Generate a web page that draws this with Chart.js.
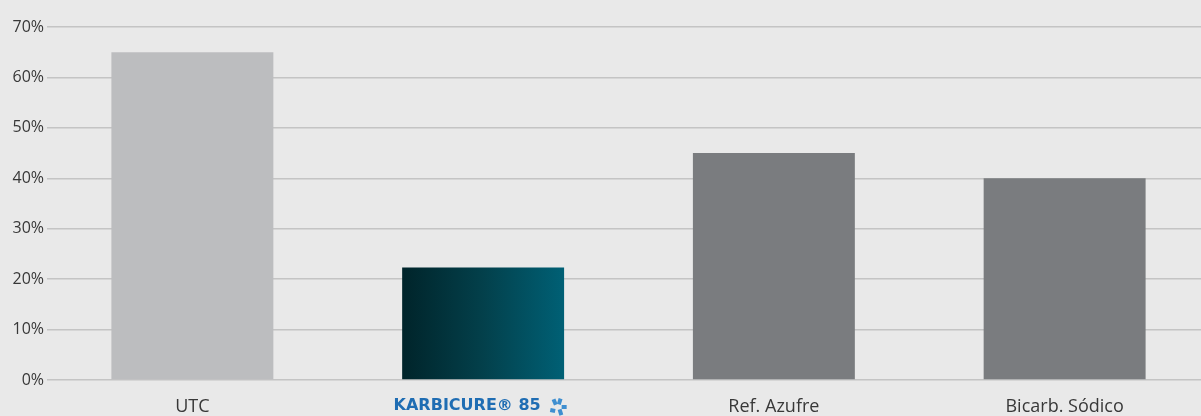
<!DOCTYPE html>
<html lang="es">

<head>
  <meta charset="UTF-8">
  <title>Comparativa</title>
  <script src="https://cdn.jsdelivr.net/npm/chart.js@4.2.1/dist/chart.umd.min.js"></script>
  <style>
    html, body {
      margin: 0;
      padding: 0;
      background: #e9e9e9;
      overflow: hidden;
    }

    .wrap {
      position: relative;
      width: 1210px;
      height: 416px;
    }
  </style>
</head>

<body>
  <div class="wrap">
    <canvas id="chart"></canvas>
  </div>

  <script>
    // data
    const categories = ['UTC', 'KARBICURE® 85', 'Ref. Azufre', 'Bicarb. Sódico'];
    const values = [65, 22.3, 45, 40];
    const yTicks = [0, 10, 20, 30, 40, 50, 60, 70];

    const brandIndex = 1;
    const brandBlue = '#1f6db3';
    const brandFont = { family: "'DejaVu Sans', sans-serif", size: 16, weight: 'bold' };
    const labelFont = { family: "'Open Sans', sans-serif", size: 18 };
    const brandGap = '\u2003\u2003'; // room for the logo mark
    const barPct = 0.557;

    // solid colours, the brand bar gets a horizontal gradient
    function barColor(context) {
      const i = context.dataIndex;
      if (i === 0) return '#bcbdbf';
      if (i === brandIndex) {
        const chart = context.chart;
        const xs = chart.scales.x;
        if (!xs || !chart.chartArea) return '#004050';
        const cx = xs.getPixelForValue(i);
        const half = (xs.width / categories.length) * barPct / 2;
        if (!Number.isFinite(cx) || !Number.isFinite(half)) return '#004050';
        const g = chart.ctx.createLinearGradient(cx - half, 0, cx + half, 0);
        g.addColorStop(0, '#00242a');
        g.addColorStop(0.5, '#03404b');
        g.addColorStop(1, '#006075');
        return g;
      }
      return '#7a7c7f';
    }

    const bgPlugin = {
      id: 'bg',
      beforeDraw(chart) {
        const c = chart.ctx;
        c.save();
        c.fillStyle = '#e9e9e9';
        c.fillRect(0, 0, chart.width, chart.height);
        c.restore();
      }
    };

    // little logo mark next to the brand label
    const markPlugin = {
      id: 'mark',
      afterDraw(chart) {
        const x = chart.scales.x;
        const c = chart.ctx;
        c.save();
        c.font = `bold ${brandFont.size}px ${brandFont.family}`;
        const w = c.measureText(categories[brandIndex]).width;
        const full = c.measureText(categories[brandIndex] + brandGap).width;
        const cx = x.getPixelForTick(brandIndex) - full / 2 + w + 17;
        const cy = 407;
        c.fillStyle = '#3f8fd0';
        const parts = [[-6, -7, 4, 6, -0.4], [1, -9, 4, 6, 0.3], [4, -2, 5, 4, 0], [-7, 1, 5, 4, 0.2], [0, 3, 4, 6, -0.3]];
        parts.forEach(p => {
          c.save();
          c.translate(cx + p[0], cy + p[1]);
          c.rotate(p[4]);
          c.fillRect(0, 0, p[2], p[3]);
          c.restore();
        });
        c.restore();
      }
    };

    new Chart(document.getElementById('chart'), {
      type: 'bar',
      data: {
        labels: categories,
        datasets: [{
          data: values,
          backgroundColor: barColor,
          borderWidth: 0,
          barPercentage: barPct,
          categoryPercentage: 1
        }]
      },
      options: {
        responsive: true,
        maintainAspectRatio: false,
        animation: false,
        layout: {
          padding: { top: 27, right: 0, left: 0, bottom: 0 }
        },
        plugins: {
          legend: { display: false },
          tooltip: { enabled: false }
        },
        scales: {
          y: {
            min: 0,
            max: 70,
            afterBuildTicks(scale) {
              scale.ticks = yTicks.map(v => ({ value: v }));
            },
            afterFit(scale) {
              scale.width = 47;
            },
            border: { display: false },
            grid: {
              color: '#c4c4c4',
              lineWidth: 1.5,
              drawTicks: false
            },
            ticks: {
              padding: 3,
              color: '#383838',
              font: { family: "'Open Sans', sans-serif", size: 16 },
              callback: v => v + '%'
            }
          },
          x: {
            afterFit(scale) {
              scale.height = 36;
            },
            border: { display: false },
            grid: { display: false },
            ticks: {
              padding: 8,
              maxRotation: 0,
              autoSkip: false,
              callback: (v, i) => i === brandIndex ? categories[i] + brandGap : categories[i],
              color: ctx => ctx.index === brandIndex ? brandBlue : '#383838',
              font: ctx => ctx.index === brandIndex ? brandFont : labelFont
            }
          }
        }
      },
      plugins: [bgPlugin, markPlugin]
    });
  </script>
</body>

</html>
